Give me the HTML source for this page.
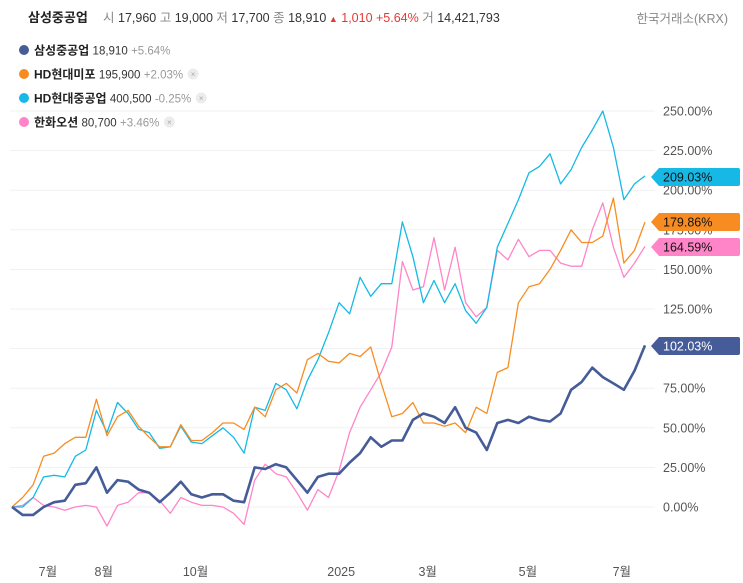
<!DOCTYPE html>
<html><head><meta charset="utf-8"><style>
body{margin:0;background:#fff;font-family:"Liberation Sans","Noto Sans CJK KR",sans-serif}
svg{display:block}
text{font-family:"Liberation Sans","Noto Sans CJK KR",sans-serif}
</style></head><body>
<svg id="chart" width="743" height="583" viewBox="0 0 743 583">
<g>
<text x="28" y="22" font-size="13" font-weight="bold" fill="#222">삼성중공업</text>
<text x="103" y="22" font-size="12.5" fill="#333"><tspan fill="#888">시</tspan> 17,960 <tspan fill="#888">고</tspan> 19,000 <tspan fill="#888">저</tspan> 17,700 <tspan fill="#888">종</tspan> 18,910<tspan fill="#e53935" font-size="9"> ▲</tspan><tspan fill="#e53935"> 1,010 +5.64%</tspan> <tspan fill="#888">거</tspan> 14,421,793</text>
<text x="728" y="23" font-size="12.5" fill="#888" text-anchor="end">한국거래소(KRX)</text>
</g>
<g id="legend"></g>
<g id="grid"></g>
<g id="series"></g>
<g id="badges"></g>
<g id="xaxis"></g>
</svg>
<script>
const seriesNames = ["삼성중공업","HD현대미포","HD현대중공업","한화오션"];
const seriesPrices = ["18,910","195,900","400,500","80,700"];
const seriesChanges = ["+5.64%","+2.03%","-0.25%","+3.46%"];
const seriesColors = ["#455c98","#f78d22","#16b9e6","#ff85c8"];
const yTicks = [0,25,50,75,100,125,150,175,200,225,250];
const xTickLabels = ["7월","8월","10월","2025","3월","5월","7월"];
const xTickIndex = [3.4,8.7,17.4,31.2,39.4,48.9,57.8];
const samsung = [0,-5,-5,0,3,4,14,15,25,9,17,16,11,9,3,9,16,8,6,8,8,4,3,25,24,27,25,17,9,19,21,21,28,34,44,38,42,42,55,59,57,53,63,50,47,36,53,55,53,57,55,54,59,74,79,88,82,78,74,86,102.03];
const mipo = [0,6,14,32,34,40,44,44,68,45,57,61,51,44,38,38,52,42,42,47,53,53,49,63,57,74,78,72,93,97,92,91,97,95,101,78,57,59,66,53,53,51,53,47,63,59,85,88,129,139,141,150,162,175,167,167,171,195,154,162,179.86];
const hhi = [0,0,6,19,20,19,32,36,61,47,66,59,49,47,37,38,51,41,40,45,50,44,34,63,61,78,74,62,80,93,110,129,122,145,133,141,141,180,158,129,143,129,141,124,116,126,164,179,194,211,215,223,204,213,227,238,250,227,194,204,209.03];
const hanwha = [0,1,6,1,0,-2,0,1,0,-12,1,3,9,9,4,-4,6,3,1,1,0,-4,-11,17,27,21,19,9,-2,11,6,23,47,63,74,85,101,155,137,139,170,137,164,129,120,126,162,156,169,158,162,162,154,152,152,175,192,164,145,154,164.59];
const allSeries = [samsung,mipo,hhi,hanwha];

const NS="http://www.w3.org/2000/svg";
const X0=12,X1=645,Y0=507,Y250=111;
const nPts = samsung.length;
function xPos(i){return X0+(X1-X0)*i/(nPts-1);}
function yPos(v){return Y0-(Y0-Y250)*v/250;}
function mk(tag,attrs,parent){const e=document.createElementNS(NS,tag);for(const k in attrs)e.setAttribute(k,attrs[k]);parent.appendChild(e);return e;}

const grid=document.getElementById('grid');
yTicks.forEach(t=>{
  const l=mk('line',{x1:10,x2:655,y1:yPos(t),y2:yPos(t),stroke:'#f1f1f4','stroke-width':1},grid);
  
  
  const tx=mk('text',{x:663,y:yPos(t)+4.5,'font-size':12.5,fill:'#555'},grid);
  tx.textContent=t.toFixed(2)+'%';
  
  
});

const xa=document.getElementById('xaxis');
xTickLabels.forEach((lab,k)=>{
  const tx=mk('text',{x:xPos(xTickIndex[k]),y:576,'font-size':12.5,fill:'#555','text-anchor':'middle'},xa);
  tx.textContent=lab;
  
  
});

const sg=document.getElementById('series');
[3,2,1,0].forEach(s=>{
  const d=allSeries[s].map((v,i)=>(i?'L':'M')+xPos(i).toFixed(1)+','+yPos(v).toFixed(1)).join(' ');
  const p=mk('path',{d:d,fill:'none',stroke:seriesColors[s],'stroke-width':s===0?2.6:1.3,'stroke-linejoin':'round'},sg);
  
  
});

const lg=document.getElementById('legend');
seriesNames.forEach((n,s)=>{
  const y=50+s*24;
  const c=mk('circle',{cx:24,cy:y,r:5,fill:seriesColors[s]},lg);
  
  
  const tx=mk('text',{x:34,y:y+4.5,'font-size':12,fill:'#222'},lg);
  tx.innerHTML='<tspan font-weight="bold">'+n+'</tspan> <tspan fill="#333" font-size="11.5">'+seriesPrices[s]+'</tspan> <tspan fill="#999" font-size="11.5">'+seriesChanges[s]+'</tspan>';
  
  
  if(s>0){
    const w=tx.getComputedTextLength();
    const bx=34+w+10;
    const cc=mk('circle',{cx:bx,cy:y,r:5.5,fill:'#ececec'},lg);
    
    
    const xx=mk('text',{x:bx,y:y+3,'font-size':8,fill:'#aaa','text-anchor':'middle'},lg);
    xx.textContent='×';
    
    
  }
});

const bg=document.getElementById('badges');
const badgeY=[346,222,177,247];
[2,1,3,0].forEach(s=>{
  const v=allSeries[s][nPts-1];
  const y=badgeY[s];
  const p=mk('path',{d:`M651,${y} L659,${y-9} L738,${y-9} Q740,${y-9} 740,${y-7} L740,${y+7} Q740,${y+9} 738,${y+9} L659,${y+9} Z`,fill:seriesColors[s]},bg);
  
  
  const tx=mk('text',{x:663,y:y+4.5,'font-size':12.5,fill:s===0?'#fff':'#111'},bg);
  tx.textContent=v.toFixed(2)+'%';
  
  
});
</script>
</body></html>
